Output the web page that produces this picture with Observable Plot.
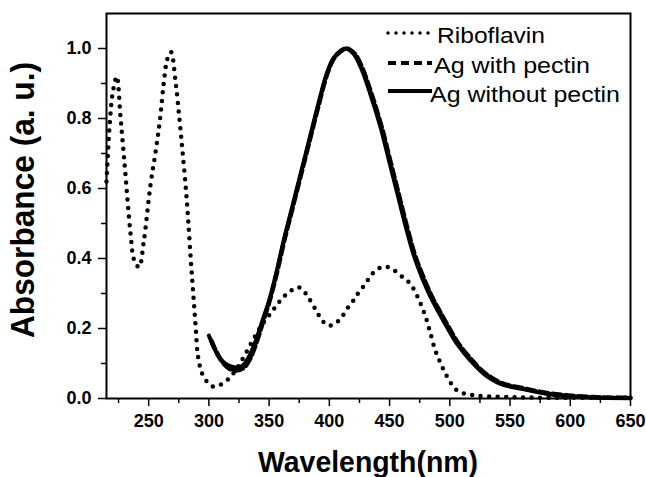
<!DOCTYPE html>
<html>
<head>
<meta charset="utf-8">
<script src="https://cdn.jsdelivr.net/npm/d3@7"></script>
<script src="https://cdn.jsdelivr.net/npm/@observablehq/plot@0.6"></script>
<style>
  html, body { margin: 0; padding: 0; background: #fff; }
</style>
</head>
<body>
<script>
// ---- Data ----
const seriesNames = ["Riboflavin", "Ag with pectin", "Ag without pectin"];

const riboWavelength = [215, 216.5, 218, 220, 223.5, 226.5, 228.5, 230.5, 232.5, 235, 238, 242, 246, 251.5, 256, 259.5, 262.5, 265.5, 268.5, 272.5, 275.5, 278, 281, 283, 285, 287, 289, 291, 294.5, 299, 304, 311, 318, 324, 330, 337, 344, 351, 357, 362, 368.5, 374.5, 380, 384.5, 389, 393, 398.5, 404.5, 410.5, 415, 420, 424.5, 430, 434.5, 440.5, 446.5, 453, 459, 467, 474, 480, 484, 488, 492.5, 498, 506, 520, 540, 560, 600, 650];
const riboAbs = [0.62, 0.72, 0.80, 0.87, 0.92, 0.81, 0.73, 0.65, 0.565, 0.47, 0.395, 0.375, 0.45, 0.61, 0.71, 0.80, 0.90, 0.97, 0.99, 0.90, 0.80, 0.71, 0.595, 0.50, 0.395, 0.30, 0.205, 0.12, 0.07, 0.046, 0.034, 0.042, 0.062, 0.09, 0.125, 0.17, 0.21, 0.242, 0.27, 0.29, 0.309, 0.318, 0.302, 0.278, 0.252, 0.228, 0.209, 0.213, 0.234, 0.258, 0.28, 0.304, 0.328, 0.352, 0.371, 0.377, 0.368, 0.352, 0.328, 0.285, 0.232, 0.185, 0.137, 0.10, 0.061, 0.023, 0.009, 0.005, 0.003, 0.002, 0.002];

const pectinWavelength = [302, 306, 311, 317, 323, 329, 334, 340, 345, 350.5, 356.5, 362.5, 369.5, 376.5, 383.5, 390.5, 398.5, 404.5, 414, 421, 427, 435, 443.5, 450.5, 457.5, 464.5, 471, 478, 485, 492, 499, 507, 518, 529, 543, 560, 582, 601, 625, 650];
const pectinAbs = [0.165, 0.135, 0.105, 0.085, 0.08, 0.088, 0.112, 0.165, 0.22, 0.28, 0.36, 0.45, 0.545, 0.64, 0.735, 0.83, 0.93, 0.975, 1.0, 0.985, 0.947, 0.87, 0.775, 0.68, 0.585, 0.49, 0.41, 0.347, 0.292, 0.247, 0.204, 0.158, 0.111, 0.073, 0.044, 0.03, 0.015, 0.008, 0.003, 0.002];

const noPectinWavelength = [300, 304, 308.5, 314, 321, 328, 333, 339, 344.5, 350, 356, 362, 369, 376, 383, 390, 398, 404, 413.5, 420, 426, 434, 442.5, 449.5, 456.5, 463.5, 470, 477, 484, 491, 498, 506, 517, 528, 542, 559, 581, 600, 625, 650];
const noPectinAbs = [0.18, 0.147, 0.118, 0.099, 0.089, 0.094, 0.118, 0.166, 0.223, 0.28, 0.36, 0.45, 0.545, 0.64, 0.735, 0.83, 0.93, 0.975, 1.0, 0.985, 0.947, 0.87, 0.775, 0.68, 0.585, 0.49, 0.41, 0.345, 0.29, 0.245, 0.202, 0.156, 0.109, 0.071, 0.042, 0.028, 0.013, 0.006, 0.002, 0.001];

const xTicks = [250, 300, 350, 400, 450, 500, 550, 600, 650];
const xMinorTicks = [225, 275, 325, 375, 425, 475, 525, 575, 625];
const yTicks = [0.0, 0.2, 0.4, 0.6, 0.8, 1.0];
const yMinorTicks = [0.1, 0.3, 0.5, 0.7, 0.9];
const xTitle = "Wavelength(nm)";
const yTitle = "Absorbance (a. u.)";

// ---- Tables ----
const ribo = riboWavelength.map((w, i) => ({w, a: riboAbs[i]}));
const pectin = pectinWavelength.map((w, i) => ({w, a: pectinAbs[i]}));
const noPectin = noPectinWavelength.map((w, i) => ({w, a: noPectinAbs[i]}));

const FONT = "'Liberation Sans', Arial, sans-serif";

const chart = Plot.plot({
  width: 646,
  height: 477,
  marginLeft: 106,
  marginRight: 16,
  marginTop: 13,
  marginBottom: 79,
  style: {fontFamily: FONT, background: "#fff", color: "#000", overflow: "visible"},
  x: {domain: [215, 650]},
  y: {domain: [0, 1.1]},
  marks: [
    Plot.axisX({ticks: xMinorTicks, tickSize: 5, text: null, label: null, strokeWidth: 1.5}),
    Plot.axisX({ticks: xTicks, tickSize: 8, tickPadding: 8, tickFormat: d => String(d), label: null,
      fontSize: 18, fontWeight: "bold", strokeWidth: 1.5}),
    Plot.axisY({ticks: yMinorTicks, tickSize: 5, text: null, label: null, strokeWidth: 1.5}),
    Plot.axisY({ticks: yTicks, tickSize: 8, tickPadding: 7, tickFormat: ".1f", label: null,
      fontSize: 18, fontWeight: "bold", strokeWidth: 1.5}),
    Plot.line(ribo, {x: "w", y: "a", curve: "catmull-rom", stroke: "#000", strokeWidth: 4.5,
      strokeDasharray: "0,8.5", strokeLinecap: "round"}),
    Plot.line(pectin, {x: "w", y: "a", curve: "catmull-rom", stroke: "#000", strokeWidth: 4.5,
      strokeDasharray: "9,4"}),
    Plot.line(noPectin, {x: "w", y: "a", curve: "catmull-rom", stroke: "#000", strokeWidth: 4}),
    Plot.frame({stroke: "#000", strokeWidth: 2})
  ]
});

document.body.appendChild(chart);

// ---- Titles and legend ----
const svg = d3.select(chart);
const g = svg.append("g").attr("font-family", FONT).attr("fill", "#000");

g.append("text")
  .attr("x", 368).attr("y", 472)
  .attr("text-anchor", "middle")
  .attr("font-size", 30).attr("font-weight", "bold")
  .attr("textLength", 220).attr("lengthAdjust", "spacingAndGlyphs")
  .text(xTitle);

g.append("text")
  .attr("transform", "translate(34,200) rotate(-90)")
  .attr("text-anchor", "middle")
  .attr("font-size", 33).attr("font-weight", "bold")
  .attr("textLength", 276).attr("lengthAdjust", "spacingAndGlyphs")
  .text(yTitle);

const legendRows = [
  {name: seriesNames[0], ly: 33, ty: 43, tx: 437, tl: 108, dash: "0,8", cap: "round", sw: 3.5},
  {name: seriesNames[1], ly: 63, ty: 73, tx: 434, tl: 156, dash: "8,5", cap: "butt", sw: 4},
  {name: seriesNames[2], ly: 91, ty: 102, tx: 430, tl: 190, dash: null, cap: "butt", sw: 4}
];
for (const r of legendRows) {
  const ln = g.append("line")
    .attr("x1", 388).attr("x2", 432).attr("y1", r.ly).attr("y2", r.ly)
    .attr("stroke", "#000").attr("stroke-width", r.sw).attr("stroke-linecap", r.cap);
  if (r.dash) ln.attr("stroke-dasharray", r.dash);
  g.append("text")
    .attr("x", r.tx).attr("y", r.ty)
    .attr("text-anchor", "start")
    .attr("font-size", 22)
    .attr("textLength", r.tl).attr("lengthAdjust", "spacingAndGlyphs")
    .text(r.name);
}
</script>
</body>
</html>
